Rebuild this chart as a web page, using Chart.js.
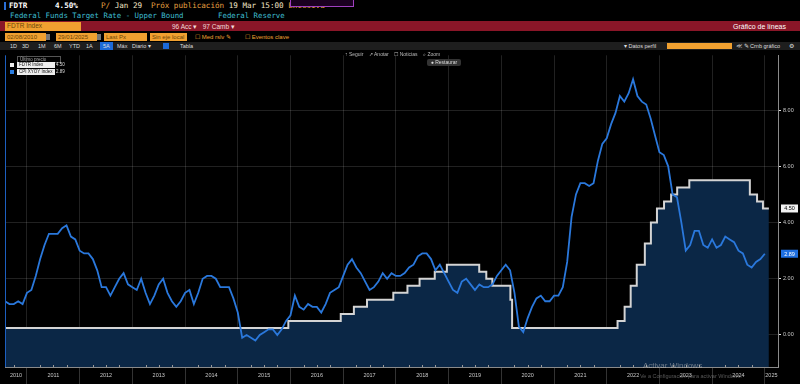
<!DOCTYPE html>
<html>
<head>
<meta charset="utf-8">
<script src="https://cdn.jsdelivr.net/npm/chart.js@4.4.1/dist/chart.umd.min.js"></script>
<style>
body { margin: 0; background: #000; width: 800px; height: 384px; overflow: hidden; position: relative; font-family: 'Liberation Sans', Arial, sans-serif; }
.a { position: absolute; white-space: nowrap; }
.mono { font-family: 'DejaVu Sans Mono', monospace; }
.box { background: #f0a030; color: #6b4608; font-size: 6px; line-height: 8px; height: 8px; padding-left: 2px; box-sizing: border-box; }
.btn { color: #ddd; font-size: 5.5px; line-height: 8px; }
#chartWrap { position: absolute; left: 0; top: 50px; width: 800px; height: 334px; }
</style>
</head>
<body>
<!-- header rows -->
<div class="a" style="left:4px;top:2px;width:2px;height:8px;background:#2a6fd6"></div>
<div class="a mono" style="left:9px;top:1px;font-size:7.6px;line-height:9px;color:#fff;font-weight:bold">FDTR</div>
<div class="a mono" style="left:55px;top:1px;font-size:7.6px;line-height:9px;color:#fff;font-weight:bold">4.50%</div>
<div class="a mono" style="left:101px;top:1px;font-size:7.6px;line-height:9px;color:#e8a040">P/ <span style="color:#f3e6c8">Jan 29</span></div>
<div class="a mono" style="left:151px;top:1px;font-size:7.6px;line-height:9px;color:#e8a040">Próx publicación <span style="color:#f3e6c8">19 Mar 15:00</span> Excesiva</div>
<div class="a" style="left:290px;top:-2px;width:62px;height:7px;border:1px solid #a040c0;background:#1a0020"></div>
<div class="a mono" style="left:10px;top:11px;font-size:7.4px;line-height:9px;color:#3dbcd0">Federal Funds Target Rate - Upper Bound</div>
<div class="a mono" style="left:218px;top:11px;font-size:7.4px;line-height:9px;color:#3dbcd0">Federal Reserve</div>

<div class="a" style="left:0;top:21px;width:800px;height:10px;background:#8a1628"></div>
<div class="a box" style="left:5px;top:22px;width:76px;height:8.5px;font-size:6.5px">FDTR Index</div>
<div class="a" style="left:172px;top:22px;font-size:6.5px;line-height:9px;color:#f2dada">96 Acc ▾ &nbsp; 97 Camb ▾</div>
<div class="a" style="left:733px;top:22px;font-size:7px;line-height:9px;color:#fff">Gráfico de líneas</div>

<div class="a box" style="left:5px;top:33px;width:41px">02/08/2010</div>
<div class="a" style="left:46px;top:34px;width:4px;height:6px;background:#777"></div>
<div class="a box" style="left:56px;top:33px;width:41px">29/01/2025</div>
<div class="a" style="left:97px;top:34px;width:4px;height:6px;background:#777"></div>
<div class="a box" style="left:104px;top:33px;width:43px">Last Px</div>
<div class="a box" style="left:150px;top:33px;width:37px">Sin eje local</div>
<div class="a" style="left:195px;top:33px;font-size:6px;line-height:8px;color:#f0a030">☐ Med rslv ✎</div>
<div class="a" style="left:245px;top:33px;font-size:6px;line-height:8px;color:#f0a030">☐ Eventos clave</div>

<div class="a" style="left:0;top:42px;width:800px;height:8px;background:#1e1e1e"></div>
<div class="a btn" style="left:10px;top:42px">1D</div>
<div class="a btn" style="left:22px;top:42px">3D</div>
<div class="a btn" style="left:38px;top:42px">1M</div>
<div class="a btn" style="left:54px;top:42px">6M</div>
<div class="a btn" style="left:69px;top:42px">YTD</div>
<div class="a btn" style="left:86px;top:42px">1A</div>
<div class="a btn" style="left:100px;top:42px;background:#1d6ad8;padding:0 3px">5A</div>
<div class="a btn" style="left:117px;top:42px">Máx</div>
<div class="a btn" style="left:132px;top:42px">Diario ▾</div>
<div class="a" style="left:163px;top:43px;width:6px;height:6px;background:#1d6ad8"></div>
<div class="a btn" style="left:180px;top:42px">Tabla</div>
<div class="a btn" style="left:624px;top:42px">▾ Datos perfil</div>
<div class="a" style="left:667px;top:43px;width:65px;height:6px;background:#f0a030"></div>
<div class="a btn" style="left:736px;top:42px">≪ ✎ Crnb gráfico</div>
<div class="a btn" style="left:789px;top:42px">⚙</div>

<div id="chartWrap"><canvas id="fedChart" width="800" height="334"></canvas></div>

<!-- chart toolbar -->
<div class="a" style="left:345px;top:51px;font-size:5px;line-height:6px;color:#bbb">↑ Seguir &nbsp;&nbsp; ↗ Anotar &nbsp;&nbsp; ☐ Noticias &nbsp;&nbsp; ⌕ Zoom</div>
<div class="a" style="left:427px;top:59px;width:34px;height:7px;background:#333;border-radius:2px;font-size:5px;line-height:7px;color:#ddd;text-align:center">● Restaurar</div>

<!-- legend -->
<div class="a" style="left:17px;top:56px;width:40px;height:5px;border:1px solid #555;font-size:4.5px;line-height:5px;color:#aaa;padding-left:2px">Último precio</div>
<div class="a" style="left:10px;top:63px;width:4px;height:4px;background:#eee"></div>
<div class="a" style="left:17px;top:62px;width:36px;height:6px;background:#eee;font-size:4.5px;line-height:6px;color:#111;padding-left:2px" id="lgName0"></div>
<div class="a" style="left:56px;top:62px;font-size:4.5px;line-height:6px;color:#ddd" id="lgVal0"></div>
<div class="a" style="left:10px;top:70px;width:4px;height:4px;background:#2a7de1"></div>
<div class="a" style="left:17px;top:69px;width:36px;height:6px;background:#eee;font-size:4.5px;line-height:6px;color:#111;padding-left:2px" id="lgName1"></div>
<div class="a" style="left:56px;top:69px;font-size:4.5px;line-height:6px;color:#ddd" id="lgVal1"></div>

<!-- watermark -->
<div class="a" style="left:643px;top:361px;font-size:8px;color:rgba(190,190,190,0.55)">Activar Windows</div>
<div class="a" style="left:640px;top:373px;font-size:5.5px;color:rgba(190,190,190,0.45)">Ve a Configuración para activar Windows.</div>

<script>
// series names
const seriesNames = ['FDTR Index', 'CPI XYOY Index'];

// Fed funds target upper bound: change dates and new rate
const fedDates = ['2010-07-30', '2015-12-17', '2016-12-15', '2017-03-16', '2017-06-15', '2017-12-14',
    '2018-03-22', '2018-06-14', '2018-09-27', '2018-12-20', '2019-08-01', '2019-09-19', '2019-10-31',
    '2020-03-04', '2020-03-16', '2022-03-17', '2022-05-05', '2022-06-16', '2022-07-28', '2022-09-22',
    '2022-11-03', '2022-12-15', '2023-02-02', '2023-03-23', '2023-05-04', '2023-07-27', '2024-09-19',
    '2024-11-08', '2024-12-19', '2025-01-29'];
const fedRates = [0.25, 0.50, 0.75, 1.00, 1.25, 1.50,
    1.75, 2.00, 2.25, 2.50, 2.25, 2.00, 1.75,
    1.25, 0.25, 0.50, 1.00, 1.75, 2.50, 3.25,
    4.00, 4.50, 4.75, 5.00, 5.25, 5.50, 5.00,
    4.75, 4.50, 4.50];

// CPI YoY, monthly from Jul 2010
const cpiStartYear = 2010;
const cpiStartMonth = 7;
const cpiYoY = [
    1.2, 1.1, 1.1, 1.2, 1.1, 1.5,
    1.6, 2.1, 2.7, 3.2, 3.6, 3.6, 3.6, 3.8, 3.9, 3.5, 3.4, 3.0,
    2.9, 2.9, 2.7, 2.3, 1.7, 1.7, 1.4, 1.7, 2.0, 2.2, 1.8, 1.7,
    1.6, 2.0, 1.5, 1.1, 1.4, 1.8, 2.0, 1.5, 1.2, 1.0, 1.2, 1.5,
    1.6, 1.1, 1.5, 2.0, 2.1, 2.1, 2.0, 1.7, 1.7, 1.7, 1.3, 0.8,
    -0.1, 0.0, -0.1, -0.2, 0.0, 0.1, 0.2, 0.2, 0.0, 0.2, 0.5, 0.7,
    1.4, 1.0, 0.9, 1.1, 1.0, 1.0, 0.8, 1.1, 1.5, 1.6, 1.7, 2.1,
    2.5, 2.7, 2.4, 2.2, 1.9, 1.6, 1.7, 1.9, 2.2, 2.0, 2.2, 2.1,
    2.1, 2.2, 2.4, 2.5, 2.8, 2.9, 2.9, 2.7, 2.3, 2.5, 2.2, 1.9,
    1.6, 1.5, 1.9, 2.0, 1.8, 1.6, 1.8, 1.7, 1.7, 1.8, 2.1, 2.3,
    2.5, 2.3, 1.5, 0.3, 0.1, 0.6, 1.0, 1.3, 1.4, 1.2, 1.2, 1.4,
    1.4, 1.7, 2.6, 4.2, 5.0, 5.4, 5.4, 5.3, 5.4, 6.2, 6.8, 7.0,
    7.5, 7.9, 8.5, 8.3, 8.6, 9.1, 8.5, 8.3, 8.2, 7.7, 7.1, 6.5,
    6.4, 6.0, 5.0, 4.9, 4.0, 3.0, 3.2, 3.7, 3.7, 3.2, 3.1, 3.4,
    3.1, 3.2, 3.5, 3.4, 3.3, 3.0, 2.9, 2.5, 2.4, 2.6, 2.7, 2.89
];

const yTicks = [0, 2, 4, 6, 8];
const xMin = 2010.583, xMax = 2025.25;
const yMin = -1.14, yMax = 9.95;

const toYear = (s) => {
    const [y, m, d] = s.split('-').map(Number);
    const start = Date.UTC(y, 0, 1), end = Date.UTC(y + 1, 0, 1);
    return y + (Date.UTC(y, m - 1, d) - start) / (end - start);
};

const fedPoints = fedDates.map((d, i) => ({ x: toYear(d), y: fedRates[i] }));
// monthly values plotted at month end
const cpiPoints = cpiYoY.map((v, i) => ({ x: cpiStartYear + (cpiStartMonth - 1 + i + 1) / 12, y: v }));

document.getElementById('lgName0').textContent = seriesNames[0];
document.getElementById('lgName1').textContent = seriesNames[1];
document.getElementById('lgVal0').textContent = fedRates[fedRates.length - 1].toFixed(2);
document.getElementById('lgVal1').textContent = cpiYoY[cpiYoY.length - 1].toFixed(2);

const decor = {
    id: 'decor',
    afterDatasetsDraw(chart) {
        const { ctx, chartArea, scales } = chart;
        ctx.save();
        // left border
        ctx.strokeStyle = '#1d5fbf';
        ctx.lineWidth = 1;
        ctx.beginPath();
        ctx.moveTo(chartArea.left + 0.5, chartArea.top);
        ctx.lineTo(chartArea.left + 0.5, chartArea.bottom);
        ctx.stroke();
        // quarter marks on the time axis
        ctx.fillStyle = '#9a9a9a';
        for (let q = Math.ceil(xMin * 4); q <= Math.floor(xMax * 4); q++) {
            if (q % 4 === 0) continue;
            const px = scales.x.getPixelForValue(q / 4);
            ctx.fillRect(Math.round(px), chartArea.bottom - 2, 1, 2);
        }
        ctx.restore();
    },
    afterDraw(chart) {
        const { ctx, chartArea, scales } = chart;
        const tags = [
            { v: fedRates[fedRates.length - 1], bg: '#f2f2f2', fg: '#000' },
            { v: cpiYoY[cpiYoY.length - 1], bg: '#1f6fe0', fg: '#fff' }
        ];
        ctx.save();
        ctx.font = '5.5px "Liberation Sans"';
        ctx.textAlign = 'center';
        ctx.textBaseline = 'middle';
        tags.forEach(t => {
            const py = scales.y.getPixelForValue(t.v);
            ctx.fillStyle = t.bg;
            ctx.fillRect(chartArea.right + 3, py - 4, 17, 8);
            ctx.fillStyle = t.fg;
            ctx.fillText(t.v.toFixed(2), chartArea.right + 11.5, py + 0.5);
        });
        ctx.restore();
    }
};

new Chart(document.getElementById('fedChart').getContext('2d'), {
    type: 'line',
    data: {
        datasets: [{
            label: seriesNames[1],
            data: cpiPoints,
            borderColor: '#2a78dc',
            borderWidth: 1.8,
            pointRadius: 0,
            tension: 0,
            fill: false,
            order: 0
        }, {
            label: seriesNames[0],
            data: fedPoints,
            borderColor: '#d4d4d4',
            borderWidth: 2,
            pointRadius: 0,
            stepped: 'before',
            fill: 'start',
            backgroundColor: '#0b2746',
            order: 1
        }]
    },
    options: {
        responsive: false,
        animation: false,
        devicePixelRatio: 1,
        layout: { padding: { left: 5, right: 0, top: 0, bottom: 0 } },
        plugins: { legend: { display: false }, tooltip: { enabled: false } },
        scales: {
            x: {
                type: 'linear',
                min: xMin,
                max: xMax,
                afterBuildTicks: (scale) => {
                    const ticks = [];
                    for (let y = Math.ceil(xMin); y <= Math.floor(xMax); y++) ticks.push({ value: y, yr: '' });
                    for (let y = Math.floor(xMin); y <= Math.floor(xMax); y++) {
                        const a = Math.max(y, xMin), b = Math.min(y + 1, xMax);
                        ticks.push({ value: (a + b) / 2 + 0.0001, yr: String(y) });
                    }
                    ticks.sort((p, q) => p.value - q.value);
                    scale.ticks = ticks;
                },
                afterFit: (scale) => { scale.height = 17; },
                ticks: {
                    autoSkip: false,
                    maxRotation: 0,
                    padding: -12,
                    color: '#c8c8c8',
                    font: { size: 5.5, family: 'Liberation Sans' },
                    callback: (value, index, ticks) => ticks[index].yr
                },
                grid: {
                    color: (c) => (c.tick && Number.isInteger(c.tick.value)) ? 'rgba(255,255,255,0.13)' : 'transparent',
                    tickColor: (c) => (c.tick && Number.isInteger(c.tick.value)) ? 'rgba(255,255,255,0.2)' : 'transparent',
                    tickLength: 17,
                    lineWidth: 1
                },
                border: { display: true, color: '#8a8a8a', width: 1 }
            },
            y: {
                position: 'right',
                min: yMin,
                max: yMax,
                afterBuildTicks: (scale) => { scale.ticks = yTicks.map(v => ({ value: v })); },
                afterFit: (scale) => { scale.width = 22; },
                ticks: {
                    padding: 2,
                    color: '#c8c8c8',
                    font: { size: 5.5, family: 'Liberation Sans' },
                    callback: (v) => Number(v).toFixed(2)
                },
                grid: {
                    color: 'rgba(255,255,255,0.13)',
                    tickColor: '#e0e0e0',
                    tickLength: 3,
                    lineWidth: 1
                },
                border: { display: true, color: '#8a8a8a', width: 1 }
            }
        }
    },
    plugins: [decor]
});
</script>
</body>
</html>
